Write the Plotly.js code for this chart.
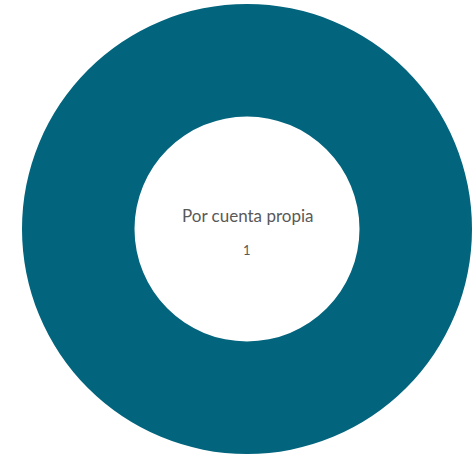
<!DOCTYPE html>
<html>
<head>
<meta charset="utf-8">
<script src="https://cdn.plot.ly/plotly-3.0.1.min.js"></script>
<style>html,body{margin:0;padding:0;background:#fff;}#chart{width:474px;height:459px;}</style>
</head>
<body>
<div id="chart"></div>
<script>
const labels = ["Por cuenta propia"];
const values = [1];
const colors = ["#02647d"];

const trace = {
  type: "pie",
  labels: labels,
  values: values,
  hole: 0.5,
  sort: false,
  textinfo: "none",
  hoverinfo: "label+value",
  marker: { colors: colors, line: { width: 0 } },
  showlegend: false
};

const layout = {
  width: 474,
  height: 459,
  margin: { l: 21, r: 1, t: 4, b: 5 },
  paper_bgcolor: "#fff",
  showlegend: false,
  annotations: [
    { text: labels[0], x: 0.5, y: 0.5, xref: "paper", yref: "paper", yshift: 14, showarrow: false,
      font: { family: "Lato, 'Source Sans Pro', sans-serif", size: 17, color: "#595959" } },
    { text: String(values[0]), x: 0.5, y: 0.5, xref: "paper", yref: "paper", yshift: -21, showarrow: false,
      font: { family: "Lato, 'Source Sans Pro', sans-serif", size: 13, color: "#595959" } }
  ]
};

Plotly.newPlot("chart", [trace], layout, { displayModeBar: false, staticPlot: true });
</script>
</body>
</html>
